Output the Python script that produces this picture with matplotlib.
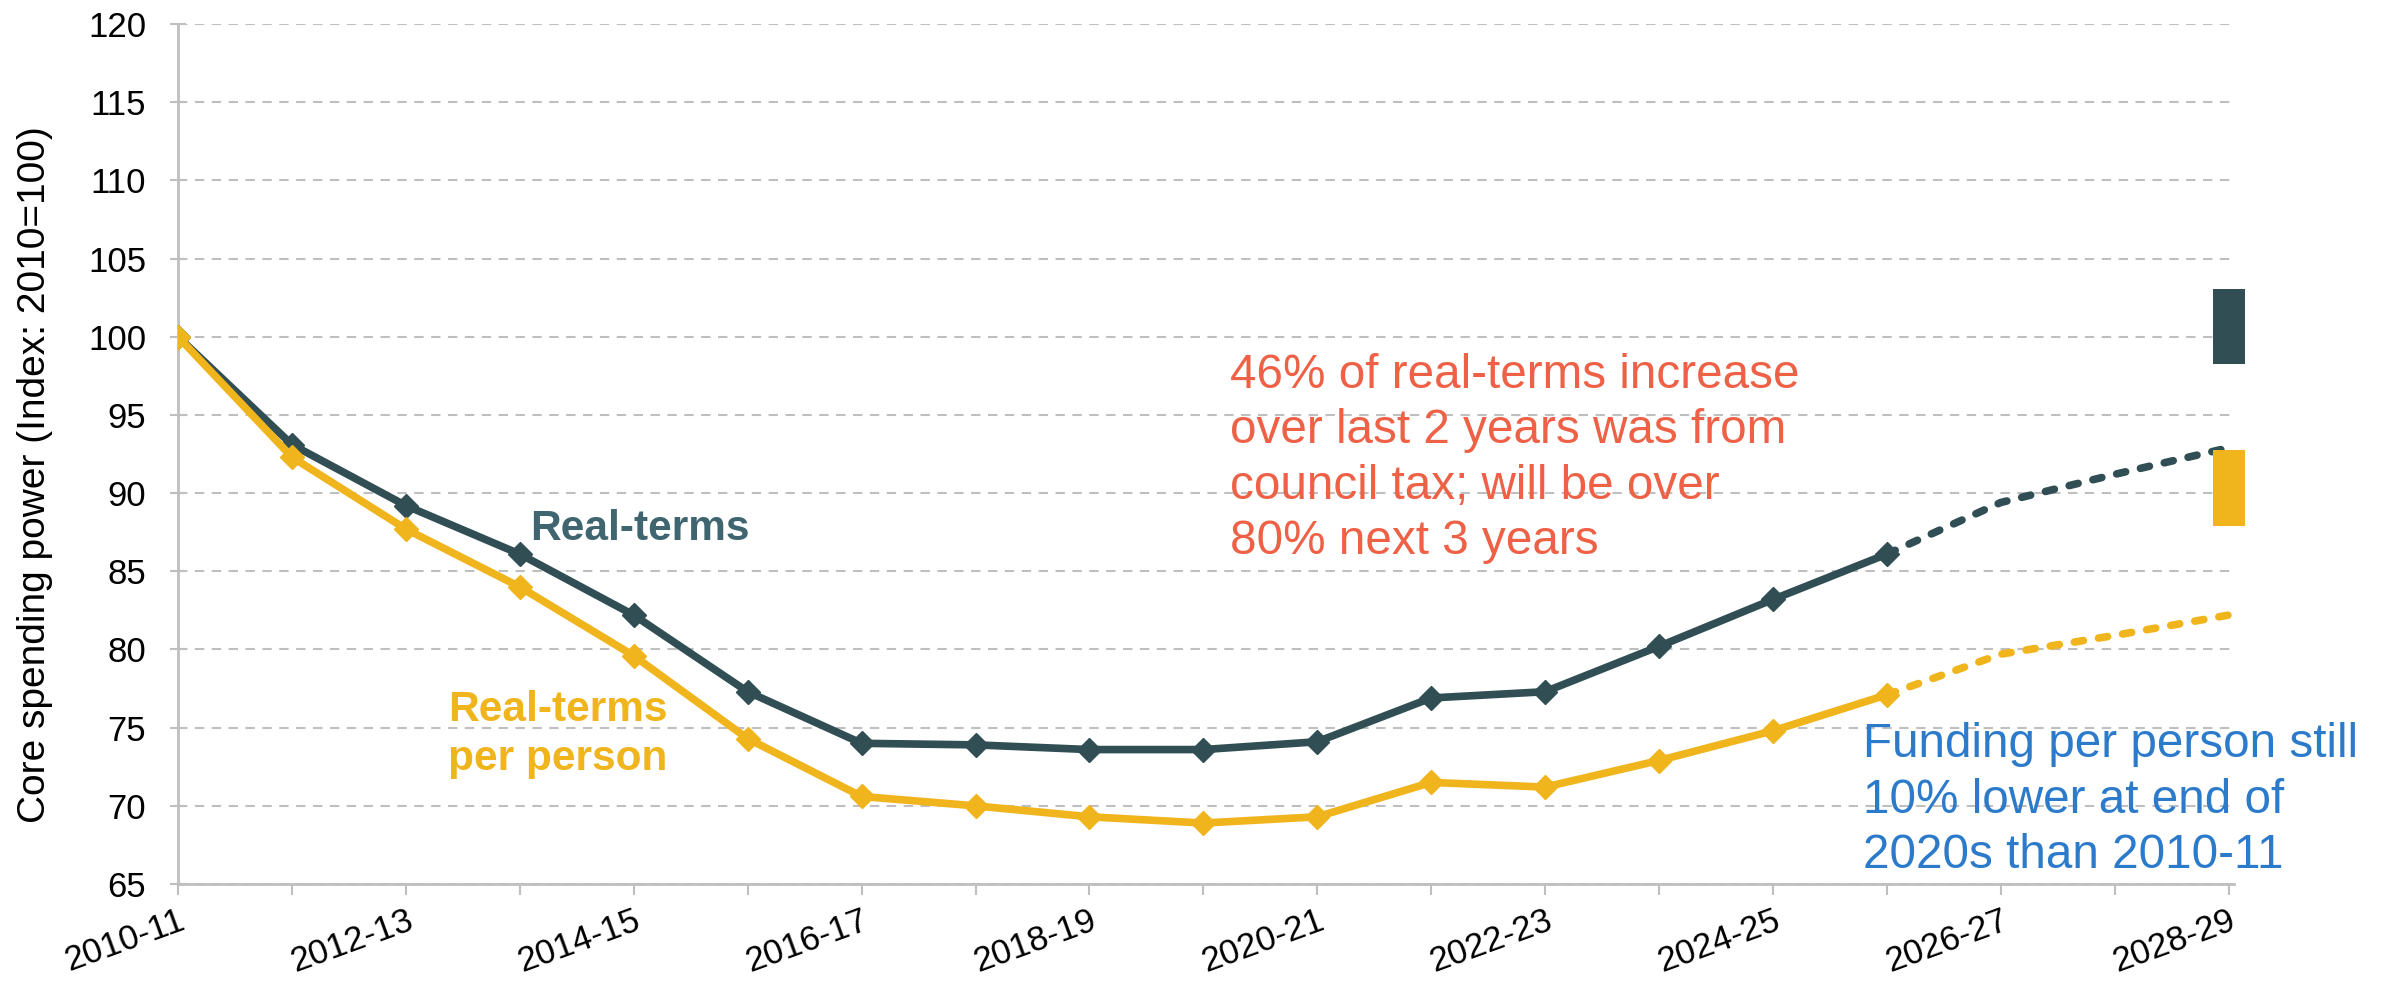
import matplotlib
matplotlib.use('Agg')
import matplotlib.pyplot as plt
from matplotlib.transforms import ScaledTranslation
import numpy as np

plt.rcParams.update({
    'font.family': ['Liberation Sans', 'DejaVu Sans'],
    'font.size': 25,
})

# --- data ---
years = ['2010-11', '2011-12', '2012-13', '2013-14', '2014-15', '2015-16',
         '2016-17', '2017-18', '2018-19', '2019-20', '2020-21', '2021-22',
         '2022-23', '2023-24', '2024-25', '2025-26', '2026-27', '2027-28',
         '2028-29']
real_terms = [100.0, 93.1, 89.2, 86.1, 82.2, 77.3, 74.0, 73.9, 73.6, 73.6,
              74.1, 76.9, 77.3, 80.2, 83.2, 86.1, 89.4, 91.2, 92.9]
per_person = [100.0, 92.3, 87.7, 84.0, 79.6, 74.3, 70.6, 70.0, 69.3, 68.9,
              69.3, 71.5, 71.2, 72.9, 74.8, 77.1, 79.7, 80.9, 82.2]
proj_start = 15  # 2025-26: projections (dashed) from here on

# ranges shown as bars at the right edge
range_low = [98.25, 87.9]
range_high = [103.05, 92.75]

DARK = '#304E54'
DARK_TXT = '#3F6670'
YELLOW = '#F0B41C'
RED = '#EE6146'
BLUE = '#2C7BCB'
GRID = '#BFBFBF'

fig = plt.figure(figsize=(23.84, 9.85), dpi=100)
ax = fig.add_axes([0.0747, 0.1025, 0.9372 - 0.0747, 0.9756 - 0.1025])

x = np.arange(len(years))
LW = 5.5
for vals, col in [(real_terms, DARK), (per_person, YELLOW)]:
    ax.plot(x[:proj_start + 1], vals[:proj_start + 1], color=col, lw=LW,
            marker='D', ms=12, zorder=4)
    ax.plot(x[proj_start:], vals[proj_start:], color=col, lw=LW,
            ls=(0, (1.2, 2.0)), dash_capstyle='round', zorder=4)

# range bars at the right
ax.bar([x[-1], x[-1]], np.subtract(range_high, range_low), bottom=range_low,
       width=0.28, color=[DARK, YELLOW], clip_on=False, zorder=5)

ax.set_xlim(0, len(years) - 1 + 0.05)
ax.set_ylim(65, 120)
ax.set_yticks(np.arange(65, 121, 5))
ax.set_xticks(x)
ax.set_xticklabels([y if i % 2 == 0 else '' for i, y in enumerate(years)],
                   rotation=20, ha='right', va='top', rotation_mode='anchor')
shift = ScaledTranslation(-5 / 72, 0, fig.dpi_scale_trans)
for lab in ax.get_xticklabels():
    lab.set_transform(lab.get_transform() + shift)

ax.grid(axis='y', color=GRID, lw=1.5, ls=(0, (4.5, 3.6)))
ax.set_axisbelow(True)
for s in ['top', 'right']:
    ax.spines[s].set_visible(False)
for s in ['left', 'bottom']:
    ax.spines[s].set_color(GRID)
    ax.spines[s].set_linewidth(2)
ax.tick_params(axis='both', colors=GRID, labelcolor='black', labelsize=25,
               width=1.5)
ax.tick_params(axis='y', direction='inout', length=12, pad=17)
ax.tick_params(axis='x', length=8, pad=6)

fig.text(0.0145, 0.5178, 'Core spending power (Index: 2010=100)', fontsize=28,
         rotation=90, ha='center', va='center')

# annotations (va='baseline' -> last line sits on the given y)
ax.text(3.09, 87.0, 'Real-terms', color=DARK_TXT, fontsize=30.5,
        fontweight='bold', va='baseline')
ax.text(2.37, 72.3, 'Real-terms\nper person', color=YELLOW, fontsize=30.5,
        fontweight='bold', va='baseline', linespacing=1.3)
ax.text(9.23, 86.1, '46% of real-terms increase\nover last 2 years was from\n'
        'council tax; will be over\n80% next 3 years', color=RED,
        fontsize=34.3, va='baseline', linespacing=1.3)
ax.text(14.79, 66.0, 'Funding per person still\n10% lower at end of\n'
        '2020s than 2010-11', color=BLUE, fontsize=34.3, va='baseline',
        linespacing=1.3)

fig.savefig('out.png', dpi=100)
